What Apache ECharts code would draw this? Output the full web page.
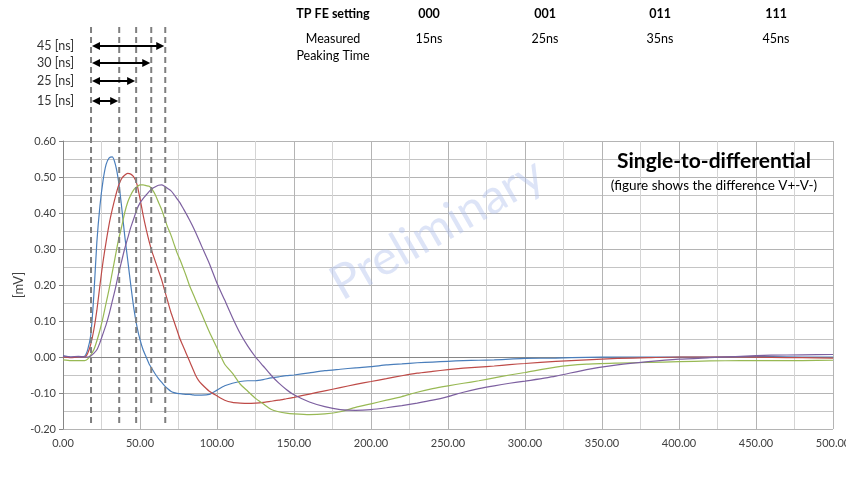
<!DOCTYPE html>
<html>
<head>
<meta charset="utf-8">
<script src="https://cdn.jsdelivr.net/npm/echarts@6/dist/echarts.min.js"></script>
<style>html,body{margin:0;padding:0;background:#fff}#c{width:846px;height:478px}</style>
</head>
<body>
<div id="c"></div>
<script>
// ---- data ----
var times = [0,5,10,14,16,18,20,22,24,26,28,30,32,34,36,38,40,42,44,46,48,50,52,54,56,58,60,62,64,66,68,70,72,74,76,78,80,82,84,86,88,90,95,100,105,110,115,120,125,130,135,140,145,150,160,170,180,190,200,210,220,230,240,250,260,270,280,290,300,320,340,360,380,400,420,440,460,480,500];
var blue = [0.003,0.0,0.0,0.002,0.02,0.06,0.17,0.32,0.42,0.49,0.535,0.553,0.556,0.535,0.49,0.42,0.34,0.27,0.2,0.135,0.085,0.048,0.02,0.0,-0.02,-0.034,-0.048,-0.06,-0.07,-0.08,-0.088,-0.095,-0.099,-0.101,-0.102,-0.103,-0.104,-0.104,-0.105,-0.106,-0.106,-0.106,-0.104,-0.092,-0.08,-0.073,-0.068,-0.066,-0.066,-0.063,-0.058,-0.055,-0.052,-0.05,-0.044,-0.038,-0.034,-0.03,-0.027,-0.022,-0.019,-0.016,-0.014,-0.012,-0.01,-0.009,-0.008,-0.006,-0.004,-0.003,-0.001,0.0,0.0,0.0,0.0,0.001,0.001,0.0,0.0];
var red = [0.0,-0.002,0.0,0.0,0.01,0.035,0.075,0.13,0.2,0.265,0.32,0.37,0.41,0.445,0.475,0.495,0.505,0.51,0.508,0.5,0.48,0.44,0.395,0.355,0.32,0.29,0.265,0.24,0.215,0.185,0.155,0.125,0.1,0.075,0.05,0.03,0.01,-0.01,-0.03,-0.05,-0.065,-0.075,-0.095,-0.108,-0.12,-0.126,-0.128,-0.129,-0.128,-0.126,-0.123,-0.12,-0.116,-0.112,-0.103,-0.094,-0.085,-0.076,-0.068,-0.06,-0.052,-0.045,-0.04,-0.035,-0.031,-0.028,-0.025,-0.021,-0.018,-0.012,-0.008,-0.004,-0.002,0.0,0.0,0.0,-0.001,-0.002,-0.003];
var green = [-0.008,-0.01,-0.01,-0.01,-0.006,0.005,0.02,0.045,0.075,0.11,0.15,0.19,0.235,0.28,0.325,0.36,0.4,0.43,0.45,0.465,0.473,0.478,0.478,0.476,0.474,0.465,0.45,0.43,0.41,0.385,0.36,0.34,0.315,0.29,0.27,0.248,0.225,0.2,0.18,0.16,0.14,0.12,0.07,0.025,-0.02,-0.045,-0.075,-0.095,-0.115,-0.13,-0.145,-0.152,-0.156,-0.158,-0.16,-0.158,-0.152,-0.14,-0.13,-0.12,-0.11,-0.098,-0.088,-0.08,-0.073,-0.066,-0.058,-0.05,-0.043,-0.028,-0.02,-0.017,-0.015,-0.013,-0.011,-0.01,-0.01,-0.01,-0.009];
var purple = [0.003,0.0,0.002,0.0,0.0,0.003,0.01,0.02,0.04,0.065,0.09,0.12,0.155,0.19,0.23,0.265,0.3,0.33,0.36,0.385,0.41,0.428,0.44,0.45,0.46,0.468,0.473,0.477,0.478,0.474,0.468,0.462,0.452,0.44,0.428,0.413,0.398,0.382,0.365,0.347,0.328,0.308,0.26,0.205,0.158,0.11,0.066,0.03,0.0,-0.025,-0.05,-0.072,-0.09,-0.105,-0.125,-0.138,-0.146,-0.148,-0.146,-0.141,-0.135,-0.128,-0.12,-0.11,-0.098,-0.088,-0.08,-0.073,-0.067,-0.053,-0.035,-0.022,-0.013,-0.006,-0.002,0.002,0.005,0.006,0.007];

var markerTimes = [18.2, 36.5, 47.5, 57.3, 66.4];
var markerBottoms = [-0.183, -0.183, -0.183, -0.139, -0.183];
var arrowLabels = ['45 [ns]', '30 [ns]', '25 [ns]', '15 [ns]'];
var arrowEnds = [4, 3, 2, 1];

var tableHead = ['TP FE setting', '000', '001', '011', '111'];
var tableRow = ['Measured\nPeaking Time', '15ns', '25ns', '35ns', '45ns'];

var colors = ['#4a7ebb', '#be4b48', '#98b954', '#7d60a0'];

function pairs(vals){ return times.map(function(t,i){ return [t, vals[i]]; }); }

var chart = echarts.init(document.getElementById('c'), null, {renderer:'canvas'});
var axisFont = "'Liberation Sans Narrow','Lato',sans-serif";
var txtFont = "Lato,'Open Sans',sans-serif";

var option = {
  animation: false,
  backgroundColor: '#fff',
  grid: {left: 63, right: 13, top: 141, bottom: 49, containLabel: false, outerBoundsMode: 'none'},
  xAxis: {
    type: 'value', min: 0, max: 500, interval: 50,
    axisLine: {show: true, lineStyle: {color: '#868686'}},
    axisTick: {show: false},
    axisLabel: {color: '#404040', fontSize: 11, fontFamily: axisFont, margin: 9,
      formatter: function(v){ return v.toFixed(2); }},
    splitLine: {show: true, lineStyle: {color: '#b4b4b4', width: 1}},
    minorTick: {show: false, splitNumber: 2},
    minorSplitLine: {show: true, lineStyle: {color: '#d4d4d4', width: 1}}
  },
  yAxis: {
    type: 'value', min: -0.2, max: 0.6, interval: 0.1,
    name: '[mV]', nameLocation: 'middle', nameGap: 38, nameRotate: 90, nameMoveOverlap: false,
    nameTextStyle: {color: '#404040', fontSize: 13, fontFamily: txtFont},
    axisLine: {show: true, lineStyle: {color: '#868686'}},
    axisTick: {show: true, length: 4, lineStyle: {color: '#868686'}},
    axisLabel: {color: '#404040', fontSize: 11, fontFamily: axisFont, margin: 7,
      formatter: function(v){ return v.toFixed(2); }},
    splitLine: {show: true, lineStyle: {color: '#b4b4b4', width: 1}},
    minorTick: {show: false, splitNumber: 2},
    minorSplitLine: {show: true, lineStyle: {color: '#c4c4c4', width: 1}}
  },
  series: [blue, red, green, purple].map(function(arr, i){
    return {type: 'line', data: pairs(arr), showSymbol: false, symbol: 'none',
      smooth: 0.2, lineStyle: {color: colors[i], width: 1.2}, z: 3};
  })
};
chart.setOption(option);

// ---- annotations ----
var g = [];
function px(t, v){ return chart.convertToPixel({gridIndex: 0}, [t, v]); }
var topY = 27;
markerTimes.forEach(function(t, i){
  var b = px(t, markerBottoms[i]);
  g.push({type: 'line', silent: true, z: 10,
    shape: {x1: b[0], y1: topY, x2: b[0], y2: b[1]},
    style: {stroke: '#7f7f7f', lineWidth: 2, lineDash: [6, 4]}});
});
var arrowYs = [46, 63, 81, 101];
arrowLabels.forEach(function(lbl, i){
  var x1 = px(markerTimes[0], 0)[0] + 1;
  var x2 = px(markerTimes[arrowEnds[i]], 0)[0] - 1;
  var y = arrowYs[i];
  g.push({type: 'line', silent: true, z: 11,
    shape: {x1: x1 + 5, y1: y, x2: x2 - 5, y2: y},
    style: {stroke: '#000', lineWidth: 2}});
  g.push({type: 'polygon', silent: true, z: 11,
    shape: {points: [[x1, y], [x1 + 8, y - 4], [x1 + 8, y + 4]]}, style: {fill: '#000'}});
  g.push({type: 'polygon', silent: true, z: 11,
    shape: {points: [[x2, y], [x2 - 8, y - 4], [x2 - 8, y + 4]]}, style: {fill: '#000'}});
  g.push({type: 'text', silent: true, z: 11, x: 74, y: y,
    style: {text: lbl, fill: '#333', font: '12.5px ' + txtFont, align: 'right', verticalAlign: 'middle'}});
});
var colX = [333, 429, 545, 660, 776];
tableHead.forEach(function(s, i){
  g.push({type: 'text', silent: true, x: colX[i], y: 14,
    style: {text: s, fill: '#000', font: 'bold 12.5px ' + txtFont, align: 'center', verticalAlign: 'middle'}});
});
tableRow.forEach(function(s, i){
  g.push({type: 'text', silent: true, x: colX[i], y: 30,
    style: {text: s, fill: '#000', font: '12.5px ' + txtFont, align: 'center', verticalAlign: 'top', lineHeight: 17}});
});
g.push({type: 'text', silent: true, z: 12, x: 714, y: 161,
  style: {text: 'Single-to-differential', fill: '#000', font: 'bold 21px ' + txtFont, align: 'center', verticalAlign: 'middle'}});
g.push({type: 'text', silent: true, z: 12, x: 714, y: 186,
  style: {text: '(figure shows the difference V+-V-)', fill: '#000', font: '13.5px ' + txtFont, align: 'center', verticalAlign: 'middle'}});
g.push({type: 'text', silent: true, z: 1, x: 437, y: 229, rotation: 0.52, originX: 0, originY: 0,
  style: {text: 'Preliminary', fill: 'rgba(175,190,235,0.42)', font: '48px ' + txtFont, align: 'center', verticalAlign: 'middle'}});
chart.setOption({graphic: g});
</script>
</body>
</html>
